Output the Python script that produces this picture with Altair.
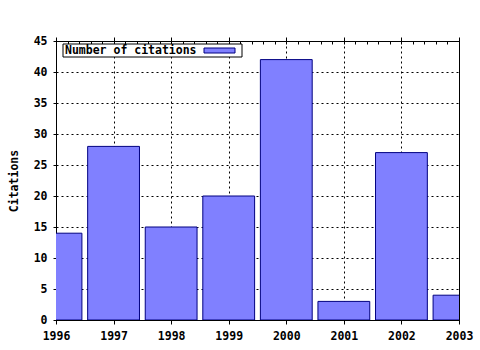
import altair as alt
import pandas as pd

years = [1996, 1997, 1998, 1999, 2000, 2001, 2002, 2003]
citations = [14, 28, 15, 20, 42, 3, 27, 4]
y_ticks = [0, 5, 10, 15, 20, 25, 30, 35, 40, 45]
x_ticks = years
series_label = "Number of citations"
y_title = "Citations"

minor_x = [round(1996 + 0.2 * i, 1) for i in range(36)]

df = pd.DataFrame({"year": years, "citations": citations})

FONT = "DejaVu Sans Mono"
FS = 11.5
FILL = "#8080ff"
EDGE = "#000080"

xscale = alt.Scale(domain=[1996, 2003], nice=False, zero=False)
yscale = alt.Scale(domain=[0, 45], nice=False, zero=True)

base = alt.Chart(df)

bars = base.transform_calculate(
    x0="datum.year - 0.45", x1="datum.year + 0.45"
).mark_bar(clip=True, fill=FILL, stroke=EDGE, strokeWidth=1).encode(
    x=alt.X("x0:Q", scale=xscale, axis=alt.Axis(
        values=x_ticks, format="d", title=None, grid=True,
        gridDash=[2, 3], gridColor="black", gridOpacity=1,
        tickSize=4, labelPadding=6, orient="bottom", labelFlush=False,
        labelOverlap=False)),
    x2="x1:Q",
    y=alt.Y("citations:Q", scale=yscale, axis=alt.Axis(
        values=y_ticks, title=y_title, grid=True, gridDash=[2, 3],
        gridColor="black", gridOpacity=1, tickSize=3, labelPadding=6,
        titlePadding=14, titleFont=FONT, titleFontWeight="bold",
        titleFontSize=FS, titleColor="black", labelFlush=False,
        labelOverlap=False)),
    y2=alt.datum(0),
)

def axis_layer(**kw):
    return base.mark_point(opacity=0).encode(
        x=alt.X("year:Q", scale=xscale, axis=alt.Axis(title=None, grid=False, **kw))
    )

bottom_minor = axis_layer(orient="bottom", values=minor_x, labels=False,
                          domain=False, tickSize=3, offset=-3)
top_major = axis_layer(orient="top", values=x_ticks, labels=False,
                       domain=True, tickSize=4)
top_minor = axis_layer(orient="top", values=minor_x, labels=False,
                       domain=False, tickSize=3, offset=-3)

one = alt.Chart(alt.Data(values=[{"k": 1}]))
legend_box = one.mark_rect(fill="white", stroke="black", strokeWidth=1).encode(
    x=alt.value(7), x2=alt.value(186), y=alt.value(3), y2=alt.value(16))
legend_swatch = one.mark_rect(fill=FILL, stroke=EDGE, strokeWidth=1).encode(
    x=alt.value(148), x2=alt.value(179), y=alt.value(7), y2=alt.value(12))
legend_text = one.mark_text(
    align="left", baseline="middle", font=FONT, fontWeight="bold",
    fontSize=FS, color="black").encode(
    x=alt.value(9), y=alt.value(10), text=alt.value(series_label))

chart = alt.layer(
    bars, bottom_minor, top_major, top_minor, legend_box, legend_swatch, legend_text
).resolve_axis(x="independent").properties(
    width=403, height=279,
    autosize=alt.AutoSizeParams(type="none"),
    padding={"left": 56, "top": 41, "right": 21, "bottom": 30},
    background="white",
).configure_view(stroke="black", strokeWidth=1).configure_axis(
    labelFont=FONT, labelFontWeight="bold", labelFontSize=FS,
    labelColor="black", domainColor="black", tickColor="black",
)

chart.save("out.html", embed_options={"renderer": "svg", "actions": False})
